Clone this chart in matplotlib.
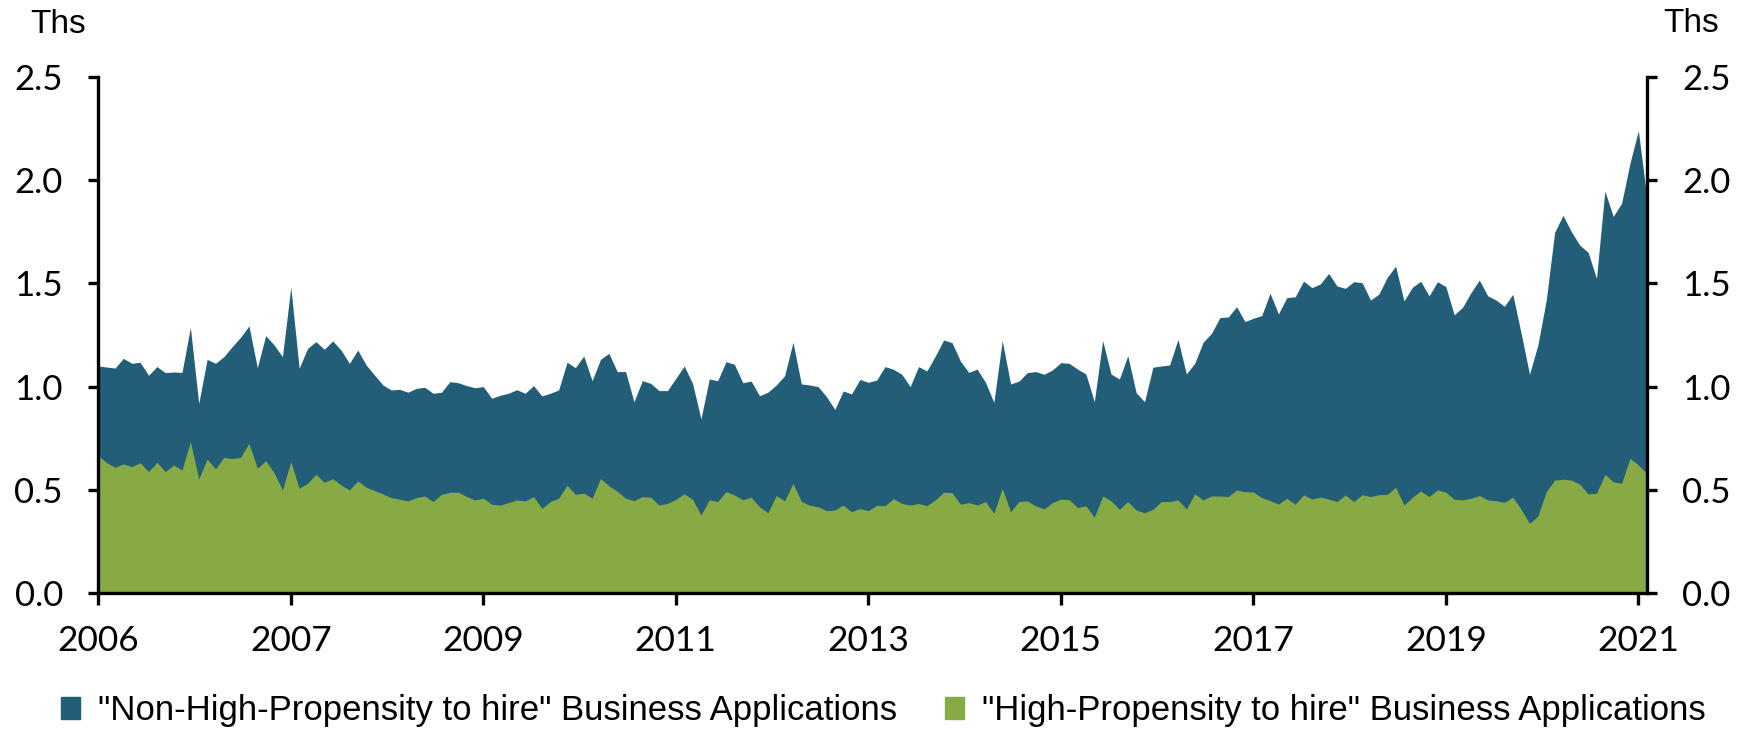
import matplotlib.pyplot as plt
import numpy as np
from matplotlib.patches import Patch
from matplotlib.ticker import FormatStrFormatter

# monthly values, thousands (top of the stack = all applications)
total_apps = [
    1.100, 1.095, 1.090, 1.137, 1.113, 1.118, 1.055, 1.097, 1.068, 1.071,
    1.069, 1.287, 0.919, 1.132, 1.113, 1.145, 1.194, 1.239, 1.294, 1.092,
    1.247, 1.202, 1.145, 1.481, 1.089, 1.185, 1.218, 1.181, 1.221, 1.177,
    1.113, 1.177, 1.105, 1.056, 1.008, 0.984, 0.987, 0.973, 0.992, 0.997,
    0.968, 0.973, 1.024, 1.019, 1.005, 0.995, 1.000, 0.944, 0.958, 0.968,
    0.985, 0.968, 1.005, 0.955, 0.968, 0.984, 1.118, 1.092, 1.148, 1.029,
    1.132, 1.161, 1.073, 1.073, 0.927, 1.029, 1.016, 0.981, 0.981, 1.040,
    1.100, 1.016, 0.844, 1.037, 1.029, 1.121, 1.108, 1.019, 1.027, 0.956,
    0.973, 1.008, 1.053, 1.215, 1.013, 1.008, 1.000, 0.952, 0.890, 0.979,
    0.965, 1.035, 1.021, 1.032, 1.097, 1.084, 1.060, 1.000, 1.097, 1.076,
    1.148, 1.226, 1.213, 1.124, 1.069, 1.085, 1.021, 0.924, 1.223, 1.013,
    1.027, 1.068, 1.073, 1.060, 1.081, 1.116, 1.113, 1.085, 1.061, 0.927,
    1.223, 1.061, 1.037, 1.150, 0.971, 0.927, 1.094, 1.100, 1.105, 1.229,
    1.061, 1.113, 1.215, 1.258, 1.334, 1.337, 1.387, 1.315, 1.331, 1.344,
    1.452, 1.352, 1.431, 1.435, 1.511, 1.479, 1.497, 1.548, 1.487, 1.476,
    1.508, 1.503, 1.419, 1.448, 1.529, 1.583, 1.415, 1.481, 1.510, 1.439,
    1.508, 1.484, 1.348, 1.384, 1.455, 1.516, 1.440, 1.419, 1.389, 1.447,
    1.258, 1.060, 1.202, 1.419, 1.747, 1.829, 1.750, 1.685, 1.650, 1.524,
    1.947, 1.824, 1.887, 2.081, 2.239, 1.920,
]

high_prop = [
    0.665, 0.632, 0.610, 0.626, 0.613, 0.632, 0.589, 0.634, 0.589, 0.621,
    0.597, 0.734, 0.553, 0.650, 0.602, 0.658, 0.652, 0.658, 0.726, 0.605,
    0.642, 0.584, 0.500, 0.637, 0.508, 0.532, 0.576, 0.537, 0.555, 0.524,
    0.500, 0.544, 0.513, 0.497, 0.481, 0.463, 0.455, 0.447, 0.463, 0.471,
    0.444, 0.479, 0.489, 0.489, 0.468, 0.452, 0.460, 0.431, 0.427, 0.439,
    0.452, 0.447, 0.468, 0.411, 0.444, 0.460, 0.523, 0.479, 0.485, 0.460,
    0.556, 0.520, 0.494, 0.460, 0.448, 0.468, 0.465, 0.427, 0.435, 0.455,
    0.481, 0.455, 0.379, 0.452, 0.444, 0.492, 0.476, 0.452, 0.465, 0.419,
    0.390, 0.473, 0.448, 0.532, 0.444, 0.426, 0.419, 0.400, 0.403, 0.426,
    0.395, 0.410, 0.400, 0.426, 0.424, 0.458, 0.435, 0.427, 0.435, 0.424,
    0.452, 0.489, 0.487, 0.431, 0.439, 0.427, 0.444, 0.387, 0.508, 0.395,
    0.444, 0.447, 0.423, 0.408, 0.439, 0.456, 0.453, 0.415, 0.423, 0.368,
    0.471, 0.448, 0.406, 0.444, 0.403, 0.390, 0.406, 0.444, 0.444, 0.452,
    0.408, 0.481, 0.452, 0.471, 0.471, 0.468, 0.500, 0.492, 0.490, 0.463,
    0.448, 0.432, 0.460, 0.431, 0.476, 0.456, 0.466, 0.456, 0.444, 0.476,
    0.444, 0.477, 0.468, 0.477, 0.479, 0.513, 0.427, 0.465, 0.495, 0.468,
    0.500, 0.489, 0.455, 0.452, 0.460, 0.473, 0.452, 0.448, 0.440, 0.465,
    0.406, 0.339, 0.374, 0.492, 0.548, 0.552, 0.548, 0.527, 0.481, 0.484,
    0.576, 0.540, 0.532, 0.653, 0.621, 0.581,
]

tick_labels = ["2006", "2007", "2009", "2011", "2013", "2015", "2017", "2019", "2021"]
tick_every = 23

labels = ['"Non-High-Propensity to hire" Business Applications',
          '"High-Propensity to hire" Business Applications']

BLUE = "#225E78"
GREEN = "#87AA45"

plt.rcParams['font.family'] = ['Liberation Sans', 'DejaVu Sans']

W, H = 1750, 730
fig = plt.figure(figsize=(W / 100, H / 100), dpi=100)
ax = fig.add_axes([98.3 / W, 1 - 593.3 / H, (1646.7 - 98.3) / W, (593.3 - 76.7) / H])

x = np.arange(len(total_apps))
ax.fill_between(x, 0, total_apps, color=BLUE, lw=0)
ax.fill_between(x, 0, high_prop, color=GREEN, lw=0)

ax.set_xlim(0, len(total_apps) - 1)
ax.set_ylim(0, 2.5)
ax.set_yticks(np.arange(0, 2.51, 0.5))
ax.yaxis.set_major_formatter(FormatStrFormatter('%.1f'))
ax.set_xticks(np.arange(0, len(total_apps), tick_every))
ax.set_xticklabels(tick_labels)

ax.spines['top'].set_visible(False)
for s in ['left', 'right', 'bottom']:
    ax.spines[s].set_linewidth(2.4)
ax.tick_params(axis='y', left=True, right=True, labelleft=True, labelright=True,
               direction='out', length=7.5, width=2.4, labelsize=25, pad=18)
ax.tick_params(axis='x', direction='out', length=8.5, width=2.4, labelsize=25.5, pad=14)
for t in ax.get_xticklabels() + ax.get_yticklabels() + ax.yaxis.get_ticklabels(which='major'):
    t.set_family(['Lato', 'Liberation Sans'])
for t in ax.yaxis.get_majorticklabels():
    t.set_family(['Lato', 'Liberation Sans'])
for tk in ax.yaxis.get_major_ticks():
    tk.label2.set_family(['Lato', 'Liberation Sans'])

fig.text(30 / W, 1 - 33 / H, "Ths", fontsize=24, va='baseline')
fig.text(1663 / W, 1 - 32 / H, "Ths", fontsize=24, va='baseline')

handles = [Patch(color=BLUE, label=labels[0]), Patch(color=GREEN, label=labels[1])]
fig.legend(handles=handles, loc='center left', bbox_to_anchor=(61 / W, 1 - 710.7 / H),
           ncol=2, frameon=False, fontsize=25, handlelength=0.55, handleheight=0.6,
           handletextpad=0.52, columnspacing=1.38, borderpad=0, borderaxespad=0)

fig.savefig("out.png", dpi=100)
